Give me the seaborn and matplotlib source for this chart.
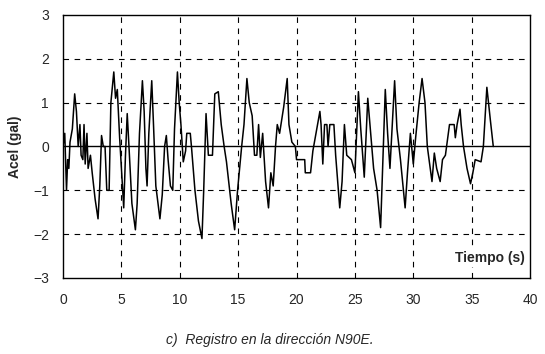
import matplotlib
matplotlib.use("Agg")
import matplotlib.pyplot as plt
import seaborn as sns
import pandas as pd

# Registro de aceleraciones, dirección N90E
tiempo = [0.0, 0.15, 0.3, 0.4, 0.5, 0.6, 0.8, 1.0, 1.15, 1.3, 1.45, 1.55, 1.7, 1.8, 1.9,
          2.05, 2.15, 2.35, 2.5, 2.75, 3.0, 3.15, 3.3, 3.45, 3.6, 3.75, 3.95, 4.1, 4.35,
          4.5, 4.65, 4.85, 5.0, 5.2, 5.35, 5.5, 5.65, 5.9, 6.2, 6.35, 6.55, 6.8, 6.95,
          7.1, 7.2, 7.35, 7.6, 7.75, 7.95, 8.3, 8.5, 8.7, 8.85, 9.0, 9.2, 9.4, 9.55,
          9.8, 9.95, 10.1, 10.3, 10.5, 10.6, 10.9, 11.0, 11.3, 11.6, 11.9, 12.05, 12.25,
          12.45, 12.8, 13.0, 13.3, 13.55, 13.8, 14.0, 14.4, 14.7, 14.95, 15.3, 15.5,
          15.75, 15.95, 16.2, 16.4, 16.6, 16.75, 16.9, 17.1, 17.35, 17.6, 17.8, 18.0,
          18.2, 18.35, 18.55, 18.9, 19.2, 19.35, 19.6, 19.9, 20.0, 20.7, 20.75, 21.2,
          21.4, 21.6, 21.8, 22.0, 22.1, 22.25, 22.4, 22.6, 22.7, 22.85, 23.2, 23.35,
          23.7, 23.9, 24.1, 24.3, 24.7, 25.0, 25.3, 25.5, 25.8, 26.1, 26.35, 26.6,
          26.9, 27.2, 27.6, 27.8, 28.0, 28.4, 28.6, 28.9, 29.3, 29.5, 29.75, 30.0,
          30.2, 30.5, 30.75, 31.0, 31.2, 31.6, 31.8, 32.0, 32.3, 32.5, 32.75, 33.1,
          33.5, 33.6, 33.75, 34.0, 34.1, 34.3, 34.6, 34.9, 35.1, 35.3, 35.8, 36.0,
          36.3, 36.6, 36.85]
acel = [0.0, 0.3, -1.0, -0.3, -0.5, 0.1, 0.4, 1.2, 0.8, 0.0, 0.5, -0.2, -0.3, 0.5, -0.4,
        0.3, -0.5, -0.2, -0.6, -1.2, -1.65, -0.9, 0.25, 0.0, 0.0, -1.0, -1.0, 1.0, 1.7,
        1.1, 1.3, 0.2, -0.5, -1.4, -0.2, 0.75, 0.0, -1.3, -1.9, -1.3, 0.3, 1.5, 0.8,
        -0.5, -0.9, 0.3, 1.5, 0.5, -0.9, -1.65, -1.1, 0.0, 0.25, -0.3, -0.9, -1.0, 0.4,
        1.7, 1.0, 0.5, -0.35, -0.1, 0.3, 0.3, 0.0, -1.0, -1.7, -2.1, -1.0, 0.75,
        -0.2, -0.2, 1.2, 1.25, 0.5, 0.0, -0.35, -1.3, -1.9, -1.0, 0.0, 0.5,
        1.55, 1.0, 0.7, -0.2, -0.2, 0.5, -0.25, 0.3, -0.8, -1.4, -0.6, -0.9,
        0.0, 0.5, 0.3, 0.9, 1.55, 0.5, 0.1, 0.0, -0.3, -0.3, -0.6, -0.6,
        -0.1, 0.2, 0.5, 0.8, 0.5, -0.4, 0.5, 0.5, 0.0, 0.5, 0.5, -0.2,
        -1.4, -0.8, 0.5, -0.2, -0.3, -0.6, 1.25, 0.4, -0.7, 1.1, 0.3, -0.5,
        -1.0, -1.85, 1.3, 0.3, -0.5, 1.5, 0.4, -0.3, -1.4, -0.6, 0.3, -0.4,
        0.2, 1.0, 1.55, 1.0, 0.0, -0.8, -0.15, -0.5, -0.8, -0.3, -0.2, 0.5,
        0.5, 0.2, 0.5, 0.85, 0.5, 0.0, -0.5, -0.85, -0.6, -0.3, -0.35, 0.0,
        1.35, 0.6, 0.0]

x_ticks = [0, 5, 10, 15, 20, 25, 30, 35, 40]
y_ticks = [-3, -2, -1, 0, 1, 2, 3]

df = pd.DataFrame({"t": tiempo, "a": acel})

sns.set_style("white")
plt.rcParams["font.family"] = ["Liberation Sans", "DejaVu Sans"]

fig = plt.figure(figsize=(5.45, 3.54), dpi=100)
ax = fig.add_axes([0.1156, 0.2147, 0.857, 0.743])

# rejilla discontinua
for yv in [-2, -1, 1, 2]:
    ax.axhline(yv, color="black", lw=0.8, ls=(0, (5, 5)), zorder=1)
for xv in x_ticks[1:-1]:
    ax.axvline(xv, color="black", lw=0.8, ls=(0, (5, 5)), zorder=1)
ax.axhline(0, color="black", lw=1.0, zorder=2)

sns.lineplot(data=df, x="t", y="a", sort=False, estimator=None,
             color="black", lw=1.1, ax=ax, zorder=3)

ax.set_xlim(0, 40)
ax.set_ylim(-3, 3)
ax.set_xticks(x_ticks)
ax.set_yticks(y_ticks)
ax.tick_params(axis="both", labelsize=10, color="black")
ax.tick_params(axis="y", direction="out", length=4, pad=6)
ax.tick_params(axis="x", length=0, pad=11)
for s in ax.spines.values():
    s.set_color("black")
    s.set_linewidth(1.0)

ax.set_xlabel("")
ax.set_ylabel("Acel (gal)", fontsize=10, fontweight="bold", labelpad=8)

ax.text(0.988, 0.075, "Tiempo (s)", transform=ax.transAxes, ha="right", va="center",
        fontsize=10, fontweight="bold", zorder=5,
        bbox=dict(facecolor="white", edgecolor="none", pad=1.5))

fig.text(0.495, 0.04, "c)  Registro en la dirección N90E.", ha="center", va="center",
         fontsize=10, style="italic")

fig.savefig("out.png", dpi=100)
